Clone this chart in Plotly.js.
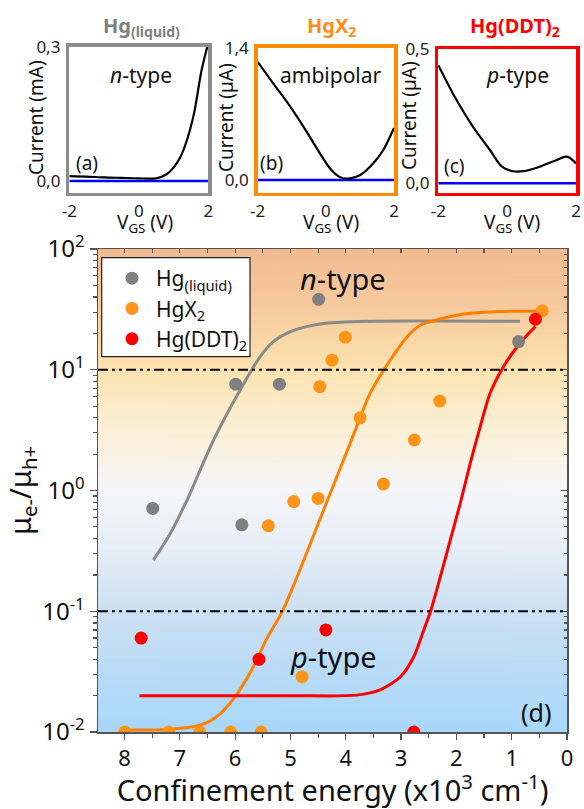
<!DOCTYPE html>
<html>
<head>
<meta charset="utf-8">
<script src="https://cdn.plot.ly/plotly-3.0.1.min.js"></script>
<style>html,body{margin:0;padding:0;background:#fff;}#chart{width:584px;height:809px;}</style>
</head>
<body>
<div id="chart"></div>
<script>
// ---------- DATA ----------
// Inset (a) Hg(liquid)
const aVgs = [-2.0, -1.5, -1.0, -0.5, 0.0, 0.5, 0.8, 1.0, 1.2, 1.4, 1.6, 1.8, 1.97];
const aCur = [0.011, 0.010, 0.008, 0.007, 0.006, 0.006, 0.015, 0.030, 0.054, 0.095, 0.155, 0.245, 0.30];
const aBlueVgs = [-2, 2];
const aBlueCur = [0.0, 0.0];
// Inset (b) HgX2
const bVgs = [-2.0, -1.54, -1.05, -0.56, -0.17, 0.13, 0.42, 0.71, 1.01, 1.40, 1.69, 2.0];
const bCur = [1.25, 1.02, 0.78, 0.51, 0.28, 0.12, 0.03, 0.018, 0.053, 0.18, 0.32, 0.55];
const bBlueVgs = [-2, 2];
const bBlueCur = [0.0, 0.0];
// Inset (c) Hg(DDT)2
const cVgs = [-2.0, -1.47, -0.99, -0.50, -0.15, 0.17, 0.47, 0.95, 1.44, 1.73, 2.0];
const cCur = [0.44, 0.31, 0.21, 0.124, 0.062, 0.045, 0.045, 0.062, 0.087, 0.099, 0.074];
const cBlueVgs = [-2, 2];
const cBlueCur = [0.0, 0.0];

// Main panel (d): confinement energy (x10^3 cm-1) vs mobility ratio
const grayX = [7.49, 5.99, 5.88, 5.20, 4.49, 0.875];
const grayY = [0.71, 7.6, 0.52, 7.6, 38.3, 17.1];
const orangeX = [8.0, 7.20, 6.64, 6.08, 5.53, 5.40, 4.94, 4.79, 4.50, 4.47, 4.25, 4.01, 3.74, 3.32, 2.76, 2.30, 0.45];
const orangeY = [0.01, 0.01, 0.01, 0.01, 0.01, 0.51, 0.81, 0.0287, 0.86, 7.24, 12.0, 18.6, 4.0, 1.13, 2.62, 5.5, 30.7];
const redX = [7.70, 5.57, 4.36, 2.77, 0.57];
const redY = [0.060, 0.040, 0.070, 0.01, 26.2];

const grayFitX = [7.48, 7.17, 6.87, 6.39, 5.91, 5.55, 5.31, 5.00, 4.46, 3.86, 2.65, 0.85];
const grayFitY = [0.265, 0.443, 0.834, 2.62, 6.80, 12.8, 17.1, 20.7, 23.9, 25.0, 25.3, 25.2];
const orangeFitX = [7.99, 7.23, 6.63, 6.33, 5.99, 5.67, 5.43, 5.15, 4.88, 4.40, 3.92, 3.56, 3.32, 3.07, 2.89, 2.65, 2.47, 1.87, 1.27, 0.48];
const orangeFitY = [0.0104, 0.0105, 0.0114, 0.0134, 0.0199, 0.0347, 0.0590, 0.099, 0.193, 0.690, 2.46, 6.38, 9.82, 14.6, 18.8, 23.5, 25.0, 28.9, 30.3, 30.7];
const redFitX = [7.73, 6.5, 5.0, 3.80, 3.38, 3.01, 2.77, 2.59, 2.47, 2.29, 2.11, 1.93, 1.75, 1.57, 1.39, 1.15, 0.90, 0.72, 0.57];
const redFitY = [0.02, 0.02, 0.02, 0.0202, 0.0223, 0.0287, 0.042, 0.070, 0.099, 0.193, 0.389, 0.783, 1.68, 3.37, 6.38, 10.6, 15.5, 19.4, 22.8];

const thresholds = [10, 0.1];

const xTickVals = [0, 1, 2, 3, 4, 5, 6, 7, 8];
const xTickText = ['0', '1', '2', '3', '4', '5', '6', '7', '8'];
const yTickVals = [0.01, 0.1, 1, 10, 100];
const yTickText = ['10<sup>-2</sup>', '10<sup>-1</sup>', '10<sup>0</sup>', '10<sup>1</sup>', '10<sup>2</sup>'];
const seriesNames = ['Hg<sub>(liquid)</sub>', 'HgX<sub>2</sub>', 'Hg(DDT)<sub>2</sub>'];

// ---------- LAYOUT HELPERS ----------
const W = 584, H = 809;
const fx = p => p / W;
const fy = p => 1 - p / H;
const FONT = 'Noto Sans, Open Sans, sans-serif';
const GRAY = '#808080', RED = '#FF0000';
const GRAYC = '#8a8a8a', ORANGEC = '#FF8000', REDC = '#FF0000';

const mainX = [98, 567], mainY = [249, 732];

// minor tick values
const yMinor = [];
[0.01, 0.1, 1, 10].forEach(d => { for (let k = 2; k <= 9; k++) yMinor.push(d * k); });
const xMinor = [];
for (let k = 0; k < 8; k++) xMinor.push(k + 0.5);

// gradient background
function gradientURL() {
  const cv = document.createElement('canvas');
  cv.width = 4; cv.height = 483;
  const ctx = cv.getContext('2d');
  const g = ctx.createLinearGradient(0, 0, 0, 483);
  g.addColorStop(0.00, '#F2BA90');
  g.addColorStop(0.12, '#F6CA9D');
  g.addColorStop(0.25, '#FCE3B0');
  g.addColorStop(0.38, '#FBF0D8');
  g.addColorStop(0.50, '#F5F6F9');
  g.addColorStop(0.62, '#E6EEF6');
  g.addColorStop(0.75, '#CCE0F2');
  g.addColorStop(0.88, '#B8DBF7');
  g.addColorStop(1.00, '#A8D7FA');
  ctx.fillStyle = g;
  ctx.fillRect(0, 0, 4, 483);
  return cv.toDataURL('image/png');
}

function insetAxes(xdom, ydom, yrange, ytv, ytt, color) {
  const common = {showline: true, mirror: true, linecolor: color, linewidth: 3.5,
    showgrid: false, zeroline: false, ticks: '', fixedrange: true,
    tickfont: {family: FONT, size: 17, color: '#222'}};
  return [
    Object.assign({}, common, {domain: xdom, range: [-2, 2], tickvals: [-2, 0, 2], ticktext: ['-2', '0', '2'], ticklabelstandoff: 0}),
    Object.assign({}, common, {domain: ydom, range: yrange, tickvals: ytv, ticktext: ytt, ticklabelstandoff: 2})
  ];
}

const [x2, y2] = insetAxes([fx(69.3), fx(208.3)], [fy(192.7), fy(46.7)], [-0.0261, 0.3], [0, 0.3], ['0,0', '0,3'], '#8c8c8c');
const [x3, y3] = insetAxes([fx(257.7), fx(394)], [fy(192.7), fy(47.7)], [-0.134, 1.4], [0, 1.4], ['0,0', '1,4'], '#FF8C00');
const [x4, y4] = insetAxes([fx(438.3), fx(576)], [fy(192.7), fy(49)], [-0.035, 0.5], [0, 0.5], ['0,0', '0,5'], '#FF0000');
x2.anchor = 'y2'; y2.anchor = 'x2';
x3.anchor = 'y3'; y3.anchor = 'x3';
x4.anchor = 'y4'; y4.anchor = 'x4';

const traces = [];
function line(x, y, color, width, xa, ya, shape, sm) {
  return {x: x, y: y, xaxis: xa, yaxis: ya, mode: 'lines', showlegend: false, hoverinfo: 'skip',
    line: {color: color, width: width, shape: shape || 'spline', smoothing: sm || 0.8}};
}
// insets
traces.push(line(aBlueVgs, aBlueCur, '#0000FF', 2.5, 'x2', 'y2', 'linear'));
traces.push(line(aVgs, aCur, '#000', 2.2, 'x2', 'y2'));
traces.push(line(bBlueVgs, bBlueCur, '#0000FF', 2.5, 'x3', 'y3', 'linear'));
traces.push(line(bVgs, bCur, '#000', 2.2, 'x3', 'y3'));
traces.push(line(cBlueVgs, cBlueCur, '#0000FF', 2.5, 'x4', 'y4', 'linear'));
traces.push(line(cVgs, cCur, '#000', 2.2, 'x4', 'y4', 'spline', 1.0));

// main: fits
traces.push(line(grayFitX, grayFitY, GRAYC, 3, 'x', 'y', 'spline', 0.9));
traces.push(line(orangeFitX, orangeFitY, ORANGEC, 3, 'x', 'y', 'spline', 0.9));
traces.push(line(redFitX, redFitY, REDC, 3, 'x', 'y', 'spline', 0.8));
// main: points
function pts(x, y, color, name) {
  return {x: x, y: y, xaxis: 'x', yaxis: 'y', mode: 'markers', name: name, hoverinfo: 'skip',
    marker: {color: color, size: 13, line: {width: 0}}};
}
traces.push(pts(grayX, grayY, GRAY, seriesNames[0]));
traces.push(pts(orangeX, orangeY, '#FF9419', seriesNames[1]));
traces.push(pts(redX, redY, RED, seriesNames[2]));
// empty traces for mirrored inside-tick axes
traces.push({x: [], y: [], xaxis: 'x5', yaxis: 'y', mode: 'markers', showlegend: false});
traces.push({x: [], y: [], xaxis: 'x', yaxis: 'y5', mode: 'markers', showlegend: false});

const AX = '#555';
const shapes = thresholds.map(t => ({type: 'line', xref: 'x domain', yref: 'y', x0: 0, x1: 1,
  y0: t, y1: t, line: {color: '#000', width: 2.2, dash: '10px,4px,3px,4px,3px,4px'}}));
// legend frame
shapes.push({type: 'rect', xref: 'paper', yref: 'paper', x0: fx(101.7), x1: fx(250), y0: fy(356.7), y1: fy(257.7),
  fillcolor: '#fff', line: {color: '#222', width: 1.2}, layer: 'above'});

function ann(text, x, y, size, opts) {
  return Object.assign({text: text, x: fx(x), y: fy(y), xref: 'paper', yref: 'paper', showarrow: false,
    xanchor: 'center', yanchor: 'middle', font: {family: FONT, size: size, color: '#111'}}, opts || {});
}
const annotations = [
  ann('<b>Hg<sub>(liquid)</sub></b>', 141, 27, 20, {font: {family: FONT, size: 20, color: '#7f7f7f'}}),
  ann('<b>HgX<sub>2</sub></b>', 331, 26, 20, {font: {family: FONT, size: 20, color: '#FF8C1A'}}),
  ann('<b>Hg(DDT)<sub>2</sub></b>', 515, 27, 20, {font: {family: FONT, size: 20, color: '#FF0000'}}),
  ann('Current (mA)', 36, 118, 19, {textangle: -90}),
  ann('Current (µA)', 226, 118, 19, {textangle: -90}),
  ann('Current (µA)', 409, 116, 19, {textangle: -90}),
  ann('V<sub>GS</sub> (V)', 145, 223, 19),
  ann('V<sub>GS</sub> (V)', 331, 223, 19),
  ann('V<sub>GS</sub> (V)', 512, 223, 19),
  ann('<i>n</i>-type', 141, 75, 21),
  ann('ambipolar', 331, 75, 21),
  ann('<i>p</i>-type', 517, 75, 21),
  ann('(a)', 87, 163, 19),
  ann('(b)', 271, 163, 19),
  ann('(c)', 455, 166, 19),
  ann('<i>n</i>-type', 343, 278, 29),
  ann('<i>p</i>-type', 333, 656, 29),
  ann('(d)', 536, 712, 25)
];

const layout = {
  width: W, height: H,
  margin: {l: 0, r: 0, t: 0, b: 0},
  paper_bgcolor: '#fff', plot_bgcolor: 'rgba(0,0,0,0)',
  font: {family: FONT, color: '#111'},
  showlegend: true,
  legend: {x: fx(108), y: fy(258), xanchor: 'left', yanchor: 'top', bgcolor: 'rgba(0,0,0,0)',
    borderwidth: 0, font: {family: FONT, size: 21, color: '#111'},
    tracegroupgap: 0, itemwidth: 38},
  xaxis: {domain: [fx(mainX[0]), fx(mainX[1])], anchor: 'y', range: [8.48, 0],
    tickvals: xTickVals, ticktext: xTickText, ticks: 'outside', ticklen: 6, tickwidth: 1.2, tickcolor: AX,
    minor: {tickvals: xMinor, ticks: 'outside', ticklen: 4, tickwidth: 1.2, tickcolor: AX},
    showline: true, mirror: true, linecolor: AX, linewidth: 1.5, showgrid: false, zeroline: false,
    tickfont: {family: FONT, size: 22, color: '#111'},
    title: {text: 'Confinement energy (x10<sup>3</sup> cm<sup>-1</sup>)', font: {family: FONT, size: 29, color: '#111'}, standoff: 4}},
  yaxis: {domain: [fy(mainY[1]), fy(mainY[0])], anchor: 'x', type: 'log', range: [-2, 2],
    tickvals: yTickVals, ticktext: yTickText, ticks: 'outside', ticklen: 7, tickwidth: 1.2, tickcolor: AX,
    minor: {tickvals: yMinor, ticks: 'outside', ticklen: 4, tickwidth: 1.2, tickcolor: AX},
    showline: true, mirror: true, linecolor: AX, linewidth: 1.5, showgrid: false, zeroline: false,
    tickfont: {family: FONT, size: 24, color: '#111'},
    title: {text: 'μ<sub>e-</sub>/μ<sub>h+</sub>', font: {family: FONT, size: 29, color: '#111'}, standoff: 6}},
  xaxis5: {overlaying: 'x', anchor: 'y', side: 'top', range: [8.48, 0], tickvals: xTickVals.concat(xMinor),
    ticks: 'inside', ticklen: 4, tickwidth: 1.2, tickcolor: AX, showticklabels: false, showgrid: false, zeroline: false, showline: false},
  yaxis5: {overlaying: 'y', anchor: 'x', side: 'right', type: 'log', range: [-2, 2], tickvals: yTickVals,
    ticks: 'inside', ticklen: 6, tickwidth: 1.2, tickcolor: AX, showticklabels: false, showgrid: false, zeroline: false, showline: false,
    minor: {tickvals: yMinor, ticks: 'inside', ticklen: 3, tickwidth: 1.2, tickcolor: AX}},
  xaxis2: x2, yaxis2: y2, xaxis3: x3, yaxis3: y3, xaxis4: x4, yaxis4: y4,
  shapes: shapes,
  annotations: annotations,
  images: [{source: gradientURL(), xref: 'paper', yref: 'paper', x: fx(mainX[0]), y: fy(mainY[0]),
    sizex: fx(mainX[1]) - fx(mainX[0]), sizey: fy(mainY[0]) - fy(mainY[1]), sizing: 'stretch',
    xanchor: 'left', yanchor: 'top', layer: 'below'}]
};

Plotly.newPlot('chart', traces, layout, {displayModeBar: false, staticPlot: true});
</script>
</body>
</html>
